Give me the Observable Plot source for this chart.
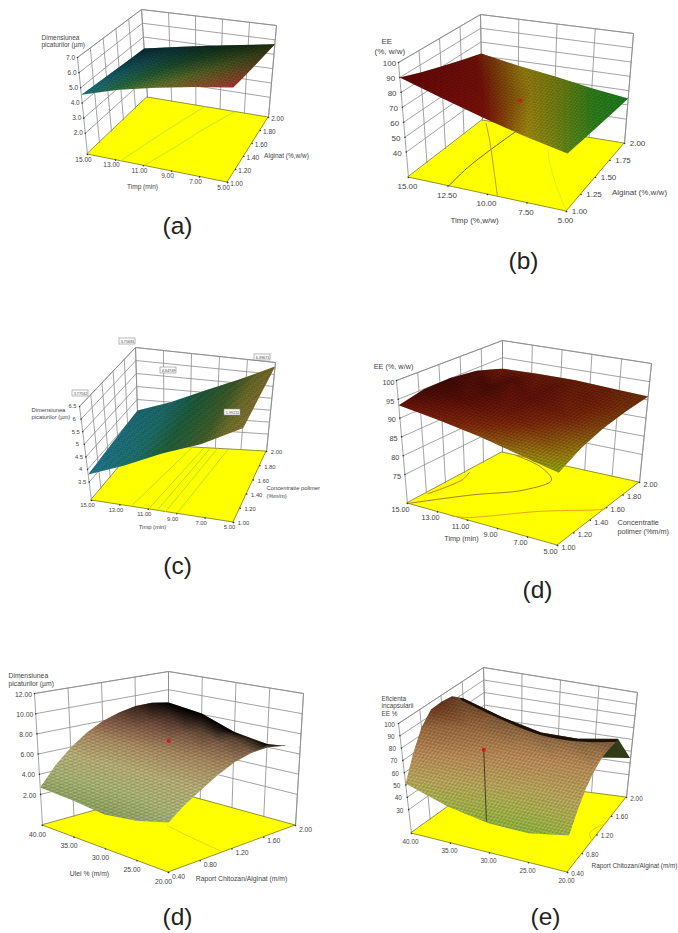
<!DOCTYPE html>
<html><head><meta charset="utf-8">
<script src="https://cdn.jsdelivr.net/npm/d3@7"></script>
<script src="https://cdn.jsdelivr.net/npm/@observablehq/plot@0.6"></script>
<style>html,body{margin:0;padding:0;background:#fff}svg{display:block}</style>
</head><body><div id="chart"></div>
<script>
// ---------- values ----------
const timeTicks = [15,13,11,9,7,5];
const timeTicksB = [15,12.5,10,7.5,5];
const polymerTicks = [1,1.2,1.4,1.6,1.8,2];
const alginateTicksB = [1,1.25,1.5,1.75,2];
const oilTicks = [40,35,30,25,20];
const ratioTicks = [0.4,0.8,1.2,1.6,2];
const zTicksA = [2,3,4,5,6,7];
const zTicksB = [40,50,60,70,80,90,100];
const zTicksC = [3.5,4,4.5,5,5.5,6,6.5];
const zTicksD = [75,80,85,90,95,100];
const zTicksE = [2,4,6,8,10,12];
const zTicksF = [30,40,50,60,70,80,90,100];

// surface heights: rows along the first factor, columns along the second
const surfaceA = [
 [4.55,4.45,4.36,4.26,4.16],
 [5.30,5.13,4.95,4.78,4.60],
 [5.85,5.62,5.40,5.20,5.00],
 [6.30,6.05,5.80,5.58,5.35],
 [6.68,6.42,6.18,5.94,5.70]];
const surfaceB = [
 [90,85,80.5,76,71.7],
 [81,77,73,69.5,66.5],
 [73,70,67.5,65,62.6],
 [66,63.5,61.5,60,58],
 [60.5,59,57.5,56,54.5]];
const surfaceC = [
 [3.80,3.87,3.94,4.01,4.08],
 [4.36,4.40,4.43,4.47,4.50],
 [5.04,5.05,5.05,5.06,5.07],
 [5.60,5.61,5.62,5.64,5.65],
 [6.40,6.38,6.37,6.35,6.33]];
const surfaceD = [
 [93.4,95,95.1,94.2,91.8],
 [92,94,94.6,94,92],
 [90.2,92.6,93.6,93.4,92],
 [88,90.6,92,92.3,91.4],
 [85.9,88.5,90,90.7,90.9]];
const surfaceE = [
 [2.69,4.5,5.96,7.1,8.0,8.55,8.9,8.9,8.6],
 [2.5,4.3,5.7,6.9,7.8,8.25,8.4,8.25,8.1],
 [2.2,4.0,5.4,6.6,7.5,7.85,7.8,7.4,6.85],
 [2.63,4.3,5.5,6.5,7.35,7.7,7.7,7.25,6.3],
 [3.46,4.6,5.5,6.4,7.14,7.55,7.65,7.3,6.66]];
const surfaceF = [
 [51.2,69.9,85.4,94.4,95,93.7,86.6],
 [39.9,58,74,84,87,86,76.4],
 [33.7,50,64,73,76,77,69.1],
 [33,47,60,69,73,74.6,68.9],
 [38.2,50,60.7,68,72.7,74,73.8]];
// darkening of the shaded surface along its second factor
const shadeA = [0,0.12,0.28,0.45,0.62];
const shadeB = [0,0.04,0.08,0.1,0.1];
const shadeC = [0,0.02,0.04,0.06,0.1];
const shadeD = [0,0.03,0.06,0.1,0.18];
const shadeE = [0,0,0,0,0.03,0.12,0.35,0.75,1];
const shadeF = [0,0,0,0,0.06,0.22,0.3];
// contour lines on the floor, as [first factor, second factor]
const contoursA = [[[12.65,1],[12.1,1.3],[11.3,1.65],[10.3,2]],[[11,1],[10,1.35],[9,1.7],[7.8,2]]];
const contoursB = [[[12.47,1],[12.6,1.3],[12.5,1.6],[12.2,2]],[[9.37,1],[11,1.33],[13.2,1.74],[14.6,1.97]],[[5,1],[6.8,1.3],[8.5,1.6],[9.2,1.74]]];
const contoursC = [[[12.24,1],[10.8,2]],[[11,1],[9.9,2]],[[10.4,1],[9.4,2]],[[9.8,1],[8.85,2]],[[9,1],[8,2]]];
const contoursD = [[[15,1],[12.8,1.33],[10.6,1.57],[10,1.78],[11.7,1.92],[14,2]],[[14.9,1.2],[14.5,1.5],[14.8,1.62]],[[12,1],[11.15,1.04],[8.2,1.35],[5.3,1.55],[5,1.58]]];
const contoursE = [[[30.8,1.25],[28,1.2],[24,1.14],[20.6,1.1]]];
const contoursF = [[[20,1.07],[21,1.2],[20.8,1.33],[20,1.44]]];
const contourColorsA = ["#b8ec30","#b8ec30"];
const contourColorsB = ["#6a6a20","#d09018","#d0f030"];
const contourColorsC = ["#a8e830","#a8e830","#a8e830","#a8e830","#a8e830"];
const contourColorsD = ["#a08030","#e07818","#e8a818"];
const contourColorsE = ["#ecd010"];
const contourColorsF = ["#e0c818"];
const designPointB = [10,1.5,66];
const designPointE = [30,1.2,7.6];
const designPointF = [34,1.04,67.6];
const calloutText = ["3.77562","3.75681","6.39671","4.64749","5.99211"];

// ---------- layout of each panel ----------
const panels = [
 {floor:{L:[87,154],F:[227,182],R:[268,117],B:[147,97]},ceil:{L:[77,57],F:[233,82],R:[276,25],B:[141,9]},
  zr:[0.6,7],xd:[15,5],yd:[1,2],xt:timeTicks,yt:polymerTicks,zt:zTicksA,zf:d=>d.toFixed(1),grid:surfaceA,shade:shadeA,vSpan:1,
  cont:contoursA,cc:contourColorsA,fs:6.5,xo:[-4,5],yo:[9,1],zo:[-7,0],mesh:[2.6,0.5],
  ramp:[[4.1,"#157c8c"],[4.6,"#258a94"],[5.2,"#30804c"],[5.8,"#788c34"],[6.3,"#a06436"],[6.7,"#d03840"]],
  box:[70,0,285,190],
  titles:[["Timp (min)",142,186,"middle"],["Alginat (%,w/w)",286,155,"middle"],["Dimensiunea",41,37,"start"],["picaturilor (µm)",41,44.5,"start"]]},
 {floor:{L:[408,177],F:[566,211],R:[624,143],B:[482,120]},ceil:{L:[398,62],F:[568,92],R:[633,33],B:[480,14]},
  zr:[23,100],xd:[15,5],yd:[1,2],xt:timeTicksB,yt:alginateTicksB,zt:zTicksB,zf:d=>d,grid:surfaceB,shade:shadeB,vSpan:1,dot:designPointB,
  cont:contoursB,cc:contourColorsB,fs:8,xo:[-1,9],yo:[13,0],zo:[-9,1],mesh:[2.6,0.4],
  ramp:[[54,"#209a28"],[58,"#3a9a20"],[62,"#8a9a18"],[66,"#b49a14"],[70,"#98480c"],[73,"#8a140c"],[90,"#700808"]],
  box:[390,0,640,220],
  titles:[["Timp (%,w/w)",474,220,"middle"],["Alginat (%,w/w)",639,192,"middle"],["EE",381,41,"start"],["(%, w/w)",374,51,"start"]]},
 {floor:{L:[91,500],F:[233,522],R:[266,451],B:[138,444]},ceil:{L:[79,406],F:[243,425],R:[275,362],B:[135,347]},
  zr:[2.77,6.5],xd:[15,5],yd:[1,2],xt:timeTicks,yt:polymerTicks,zt:zTicksC,zf:d=>d,grid:surfaceC,shade:shadeC,vSpan:1,
  cont:contoursC,cc:contourColorsC,fs:5.8,xo:[-4,5],yo:[10,1],zo:[-7,0],mesh:[2.4,0.45],
  ramp:[[3.8,"#268aa2"],[4.5,"#248480"],[5.05,"#267048"],[5.6,"#4c7034"],[6,"#848432"],[6.4,"#98843c"]],
  box:[70,340,285,530],
  titles:[["Timp (min)",152,527,"middle"],["Concentratie polimer",266,488,"start"],["(%m/m)",266,495.5,"start"],["Dimensiunea",31,410,"start"],["picaturilor (µm)",31,417,"start"]],
  callouts:[[80,393],[127,341],[262,357],[168,370],[232,412]]},
 {floor:{L:[407,503],F:[557,545],R:[639,482],B:[502,452]},ceil:{L:[396,380],F:[559,417],R:[651,363],B:[502,340]},
  zr:[67.3,100],xd:[15,5],yd:[1,2],xt:timeTicks,yt:polymerTicks,zt:zTicksD,zf:d=>d,grid:surfaceD,shade:shadeD,vSpan:1,
  cont:contoursD,cc:contourColorsD,fs:7.3,xo:[-7,6],yo:[11,2],zo:[-8,2],mesh:[2.8,0.5],
  ramp:[[86.5,"#a8c014"],[88,"#b89a14"],[89.5,"#a86a14"],[91.5,"#98300e"],[93.5,"#7a180c"],[95.1,"#500c06"]],
  box:[390,330,660,560],
  titles:[["Timp (min)",461,538,"middle"],["Concentratie",617,522,"start"],["polimer (%m/m)",617,531,"start"],["EE (%, w/w)",393,366,"middle"]]},
 {floor:{L:[42,825],F:[168,872],R:[295,825],B:[168,790]},ceil:{L:[34,693],F:[168,728],R:[303,693],B:[168,671]},
  zr:[-1.08,12],xd:[40,20],yd:[0.4,2],xt:oilTicks,yt:ratioTicks,zt:zTicksE,zf:d=>d.toFixed(2),grid:surfaceE,shade:shadeE,vSpan:1,dot:designPointE,
  cont:contoursE,cc:contourColorsE,fs:6.8,xo:[-5,9],yo:[10,4],zo:[-11,1],mesh:[3.1,0.4],
  ramp:[[2.2,"#a4ba70"],[4,"#c2ce88"],[5.5,"#d2c888"],[7,"#c2a070"],[8,"#a07058"],[8.9,"#6a4632"]],
  box:[25,660,310,885],
  titles:[["Ulei % (m/m)",89,873,"middle"],["Raport Chitozan/Alginat (m/m)",241,878,"middle"],["Dimensiunea",8,675,"start"],["picaturilor (µm)",8,683,"start"]]},
 {floor:{L:[411,833],F:[567,872],R:[626,797],B:[486,779]},ceil:{L:[398,723],F:[572,752],R:[637,692],B:[483,667]},
  zr:[10.6,100],xd:[40,20],yd:[0.4,2],xt:oilTicks,yt:ratioTicks,zt:zTicksF,zf:d=>d,grid:surfaceF,shade:shadeF,vSpan:0.75,dot:designPointF,stem:true,
  cont:contoursF,cc:contourColorsF,fs:6.4,xo:[-1,8],yo:[10,1],zo:[-9,1],mesh:[3.1,0.4],edge:[5,"#1c1008"],
  ramp:[[33,"#a6cc4a"],[45,"#c4ca5c"],[55,"#d4be6a"],[70,"#d4a066"],[85,"#b27a4a"],[95,"#7c4426"]],
  box:[390,660,650,885],
  back:[[1,0.75,73.8],[1,1,43.8],[0.75,0.75,69],[0.75,1,40]],
  titles:[["Raport Chitozan/Alginat (m/m)",634,865,"middle"],["Eficienta",381,698,"start"],["incapsularii",381,705.5,"start"],["EE %",381,713,"start"]]}
];
const panelLabels = [["(a)",177,226],["(b)",523,261],["(c)",177,566],["(d)",537,590],["(d)",177,917],["(e)",545,917]];

// ---------- projection ----------
const bil=(q,u,v,k)=>q.L[k]*(1-u)*(1-v)+q.F[k]*u*(1-v)+q.R[k]*u*v+q.B[k]*(1-u)*v;
const proj=(p,u,v,w)=>[0,1].map(k=>bil(p.floor,u,v,k)*(1-w)+bil(p.ceil,u,v,k)*w);
const U=(p,x)=>(x-p.xd[0])/(p.xd[1]-p.xd[0]);
const V=(p,y)=>(y-p.yd[0])/(p.yd[1]-p.yd[0]);
const W=(p,z)=>(z-p.zr[0])/(p.zr[1]-p.zr[0]);
const seg=(a,b)=>({x1:a[0],y1:a[1],x2:b[0],y2:b[1]});

// one colour scale shared by all panels: each panel owns a band of the domain
const band=1000;
const colorDomain=[],colorRange=[];
panels.forEach((p,i)=>p.ramp.forEach(([z,c])=>{colorDomain.push(i*band+z);colorRange.push(c);}));

const marks=[];
panels.forEach((p,pi)=>{
  const font={fontFamily:"Liberation Sans, Arial, sans-serif",fontSize:p.fs,fill:"#444"};
  // floor
  marks.push(Plot.area([{a:proj(p,0,0,0),b:proj(p,0,1,0)},{a:proj(p,1,0,0),b:proj(p,1,1,0)}],
    {x1:d=>d.a[0],y1:d=>d.a[1],x2:d=>d.b[0],y2:d=>d.b[1],fill:"#ffff00",stroke:"#77771a",strokeWidth:0.8}));
  // floor contours
  p.cont.forEach((c,ci)=>marks.push(Plot.line(c.map(q=>proj(p,U(p,q[0]),V(p,q[1]),0)),
    {x:d=>d[0],y:d=>d[1],curve:"catmull-rom",stroke:p.cc[ci],strokeWidth:1})));
  // walls
  const walls=[];
  const us=p.xt.map(t=>U(p,t)), vs=p.yt.map(t=>V(p,t));
  us.forEach(u=>walls.push(seg(proj(p,u,1,0),proj(p,u,1,1))));
  vs.forEach(v=>walls.push(seg(proj(p,0,v,0),proj(p,0,v,1))));
  p.zt.concat([p.zr[1]]).forEach(z=>{const w=W(p,z);
    walls.push(seg(proj(p,0,0,w),proj(p,0,1,w)));
    walls.push(seg(proj(p,0,1,w),proj(p,1,1,w)));});
  walls.push(seg(proj(p,1,1,0),proj(p,1,1,1)));
  marks.push(Plot.link(walls,{x1:"x1",y1:"y1",x2:"x2",y2:"y2",stroke:"#8c8c8c",strokeWidth:0.8}));
  // visible part of the far side
  if(p.back){
    const q=p.back.map(([u,v,z])=>proj(p,u,v,W(p,z)));
    marks.push(Plot.area([{a:q[0],b:q[1]},{a:q[2],b:q[3]}],{x1:d=>d.a[0],y1:d=>d.a[1],x2:d=>d.b[0],y2:d=>d.b[1],fill:"#2f3c16"}));
  }
  // surface
  const pts=[];
  const m=p.grid.length,n=p.grid[0].length;
  p.grid.forEach((row,i)=>row.forEach((z,j)=>{
    const u=i/(m-1),v=j/(n-1)*p.vSpan;
    const a=proj(p,u,v,W(p,z));
    const lo=p.ramp[0][0],hi=p.ramp[p.ramp.length-1][0];
    pts.push({x:a[0],y:a[1],c:pi*band+Math.min(hi,Math.max(lo,z)),s:p.shade[j]});
  }));
  const P=(i,j)=>{const k=i*n+j;return [pts[k].x,pts[k].y];};
  const ring=[];
  for(let i=0;i<m;i++)ring.push(P(i,0));
  for(let j=1;j<n;j++)ring.push(P(m-1,j));
  for(let i=m-2;i>=0;i--)ring.push(P(i,n-1));
  for(let j=n-2;j>=1;j--)ring.push(P(0,j));
  ring.push(ring[0]);
  const clip={type:"Polygon",coordinates:[ring]};
  const [bx1,by1,bx2,by2]=p.box;
  const area={x1:bx1,y1:by1,x2:bx2,y2:by2,clip};
  const rasterBox={x:"x",y:"y",interpolate:"barycentric",...area};
  marks.push(Plot.raster(pts,{...rasterBox,fill:"c"}));
  marks.push(Plot.raster(pts,{...rasterBox,fill:"black",fillOpacity:"s"}));
  // fine mesh texture of the surface (a style, aligned with the floor edges)
  const [period,amp]=p.mesh;
  const unit=(a,b)=>{const dx=b[0]-a[0],dy=b[1]-a[1],l=Math.hypot(dx,dy);return [-dy/l,dx/l];};
  const n1=unit(p.floor.L,p.floor.F),n2=unit(p.floor.F,p.floor.R);
  marks.push(Plot.raster({...area,fill:"black",fillOpacity:(x,y)=>{
    const a=Math.abs(Math.sin(Math.PI*(x*n1[0]+y*n1[1])/period));
    const b=Math.abs(Math.sin(Math.PI*(x*n2[0]+y*n2[1])/period));
    return amp*(1-Math.sqrt(a*b));
  }}));
  // dark silhouette along the far edge of a strongly curved surface
  if(p.edge){
    const far=d3.range(m).map(i=>P(i,n-1));
    marks.push(Plot.line(far,{x:d=>d[0],y:d=>d[1],curve:"catmull-rom",stroke:p.edge[1],strokeWidth:p.edge[0],clip}));
  }
  // axes ticks and labels
  const txt=[],dots=[];
  p.xt.forEach(t=>{const a=proj(p,U(p,t),0,0);dots.push(a);
    txt.push({t:t.toFixed(2),x:a[0]+p.xo[0],y:a[1]+p.xo[1]});});
  p.yt.forEach(t=>{const a=proj(p,1,V(p,t),0);dots.push(a);
    txt.push({t:t.toFixed(2),x:a[0]+p.yo[0],y:a[1]+p.yo[1]});});
  p.zt.forEach(z=>{const a=proj(p,0,0,W(p,z));dots.push(a);
    txt.push({t:String(p.zf(z)),x:a[0]+p.zo[0],y:a[1]+p.zo[1]});});
  marks.push(Plot.dot(dots,{x:d=>d[0],y:d=>d[1],r:0.8,fill:"#333"}));
  marks.push(Plot.text(txt,{x:"x",y:"y",text:"t",...font}));
  p.titles.forEach(t=>marks.push(Plot.text([t],{x:d=>d[1],y:d=>d[2],text:d=>d[0],textAnchor:t[3],...font})));
  // design point
  if(p.dot){
    const u=U(p,p.dot[0]),v=V(p,p.dot[1]);
    const a=proj(p,u,v,W(p,p.dot[2]));
    if(p.stem){const b=proj(p,u,v,0);marks.push(Plot.link([seg(a,b)],{x1:"x1",y1:"y1",x2:"x2",y2:"y2",stroke:"#2a2a10",strokeWidth:0.8}));}
    marks.push(Plot.dot([a],{x:d=>d[0],y:d=>d[1],r:2,fill:"#d01818"}));
  }
  // callouts
  if(p.callouts){
    const c=p.callouts.map((q,i)=>({x:q[0],y:q[1],t:calloutText[i]}));
    marks.push(Plot.rect(c,{x1:d=>d.x-8,x2:d=>d.x+8,y1:d=>d.y-3,y2:d=>d.y+3,fill:"#fff",stroke:"#888",strokeWidth:0.6}));
    marks.push(Plot.text(c,{x:"x",y:"y",text:"t",fontSize:3.8,fontFamily:"Liberation Sans",fill:"#444"}));
  }
});
marks.push(Plot.text(panelLabels,{x:d=>d[1],y:d=>d[2],text:d=>d[0],fontSize:24.5,fontFamily:"Liberation Sans, Arial, sans-serif",fill:"#222"}));

const chart=Plot.plot({width:678,height:933,margin:0,
  x:{axis:null,domain:[0,678],range:[0,678]},
  y:{axis:null,domain:[0,933],range:[0,933]},
  color:{type:"linear",domain:colorDomain,range:colorRange},
  opacity:{domain:[0,1],range:[0,1]},
  marks});
document.getElementById("chart").appendChild(chart);
</script></body></html>
